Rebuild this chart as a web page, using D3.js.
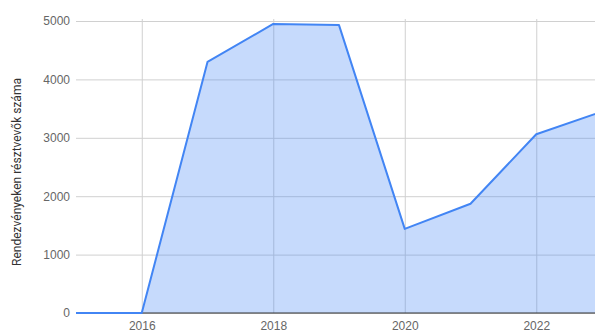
<!DOCTYPE html>
<html>
<head>
<meta charset="utf-8">
<script src="https://cdn.jsdelivr.net/npm/d3@7"></script>
<style>
  body { margin: 0; background: #fff; overflow: hidden; }
  svg { display: block; font-family: Roboto, Arial, sans-serif; }
</style>
</head>
<body>
<div id="svg"></div>
<script>
// yearly participants
const years = [2015, 2016, 2017, 2018, 2019, 2020, 2021, 2022, 2023];
const participants = [0, 0, 4300, 4950, 4930, 1440, 1870, 3060, 3450];
const yTicks = [0, 1000, 2000, 3000, 4000, 5000];
const xTicks = [2016, 2018, 2020, 2022];
const yLabel = 'Rendezvényeken résztvevők száma';

function makeGraph() {
  let w = 595;
  let h = 334;

  let svg = d3.select('#svg').append('svg').attr('width', w).attr('height', h);

  let xScale = d3.scaleLinear()
              .domain([2015, 2023])
              .range([76, 602]);

  let yScale = d3.scaleLinear()
              .domain([0, 5000])
              .range([313, 21]);

  // horizontal grid + y labels
  let yAxis = d3.axisLeft(yScale)
              .tickValues(yTicks)
              .tickSize(-(w - 76))
              .tickPadding(6)
              .tickFormat(d3.format('d'));
  let yAxisGroup = svg.append('g')
              .attr('transform', 'translate(76, 0)')
              .call(yAxis);
  yAxisGroup.select('.domain').remove();
  yAxisGroup.selectAll('line').attr('stroke', '#d0d0d0');
  yAxisGroup.selectAll('text').attr('fill', '#666').style('font-size', '12px');

  // vertical grid + x labels
  let xAxis = d3.axisBottom(xScale)
              .tickValues(xTicks)
              .tickSize(-(313 - 19))
              .tickPadding(8)
              .tickFormat(d3.format('d'));
  let xAxisGroup = svg.append('g')
              .attr('transform', 'translate(0, 313)')
              .call(xAxis);
  xAxisGroup.select('.domain').remove();
  xAxisGroup.selectAll('line').attr('stroke', '#d0d0d0');
  xAxisGroup.selectAll('text').attr('fill', '#666').style('font-size', '12px');

  let data = years.map((y, i) => ({x: y, y: participants[i]}));

  let area = d3.area()
              .x(d => xScale(d.x))
              .y0(yScale(0))
              .y1(d => yScale(d.y));

  let line = d3.line()
              .x(d => xScale(d.x))
              .y(d => yScale(d.y));

  svg.append('path')
    .datum(data)
    .attr('d', area)
    .attr('fill', '#4285f4')
    .attr('fill-opacity', 0.3);

  // baseline
  svg.append('line')
    .attr('x1', 76).attr('x2', w)
    .attr('y1', yScale(0)).attr('y2', yScale(0))
    .attr('stroke', '#333')
    .attr('stroke-width', 1);

  svg.append('path')
    .datum(data)
    .attr('d', line)
    .attr('fill', 'none')
    .attr('stroke', '#4285f4')
    .attr('stroke-width', 2)
    .attr('stroke-linejoin', 'round');

  svg.append('text')
    .attr('transform', 'rotate(-90)')
    .attr('x', -172)
    .attr('y', 21)
    .attr('text-anchor', 'middle')
    .attr('fill', '#333')
    .style('font-size', '12px')
    .text(yLabel);
}

window.onload = function() {
  makeGraph();
}
</script>
</body>
</html>
